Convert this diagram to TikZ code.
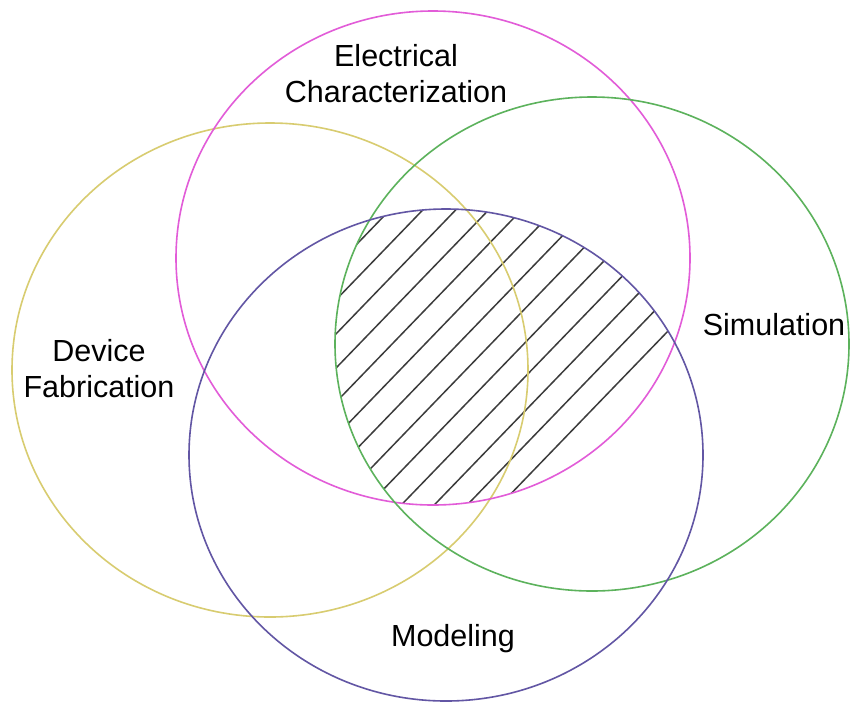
\documentclass[tikz,border=0pt]{standalone}
\usepackage{fontspec}
\setmainfont{Liberation Sans}
\definecolor{elecpink}{RGB}{226,92,216}
\definecolor{simgreen}{RGB}{92,178,92}
\definecolor{devyellow}{RGB}{216,204,112}
\definecolor{modpurple}{RGB}{98,86,164}
\definecolor{hatchgray}{RGB}{60,60,60}
\tikzset{
    ring/.style={line width=1.6pt},
    hatch/.style={line width=1.5pt, hatchgray},
    setname/.style={align=center, inner sep=0pt, font=\fontsize{30.5}{36}\selectfont}
}

\begin{document}
\begin{tikzpicture}[x=1pt, y=-1pt]
        \useasboundingbox[fill=white] (0,0) rectangle (850,702);
        \coordinate (dev) at (270,370);
        \coordinate (elec) at (433,258);
        \coordinate (sim) at (592,344);
        \coordinate (model) at (446,455);
        % shared part of characterization, simulation and modeling
        \begin{scope}
            \clip (elec) ellipse [x radius=257pt, y radius=247pt];
            \clip (sim) ellipse [x radius=257pt, y radius=247pt];
            \clip (model) ellipse [x radius=257pt, y radius=246pt];
            \foreach \k in {0,...,12} {
                \pgfmathsetmacro\c{613+34.1*\k}
                \draw [hatch] (300,\c-310) -- (720,\c-745);
            }
        \end{scope}
        \draw [ring, devyellow] (dev) ellipse [x radius=258pt, y radius=247pt];
        \draw [ring, elecpink] (elec) ellipse [x radius=257pt, y radius=247pt];
        \draw [ring, simgreen] (sim) ellipse [x radius=257pt, y radius=247pt];
        \draw [ring, modpurple] (model) ellipse [x radius=257pt, y radius=246pt];
        \node [setname] (elecname) at (396,74) {Electrical\\Characterization};
        \node [setname] (devname) at (99,369) {Device\\Fabrication};
        \node [setname] (simname) at (774,325) {Simulation};
        \node [setname] (modname) at (453,639) {Modeling};
    \end{tikzpicture}
\end{document}
